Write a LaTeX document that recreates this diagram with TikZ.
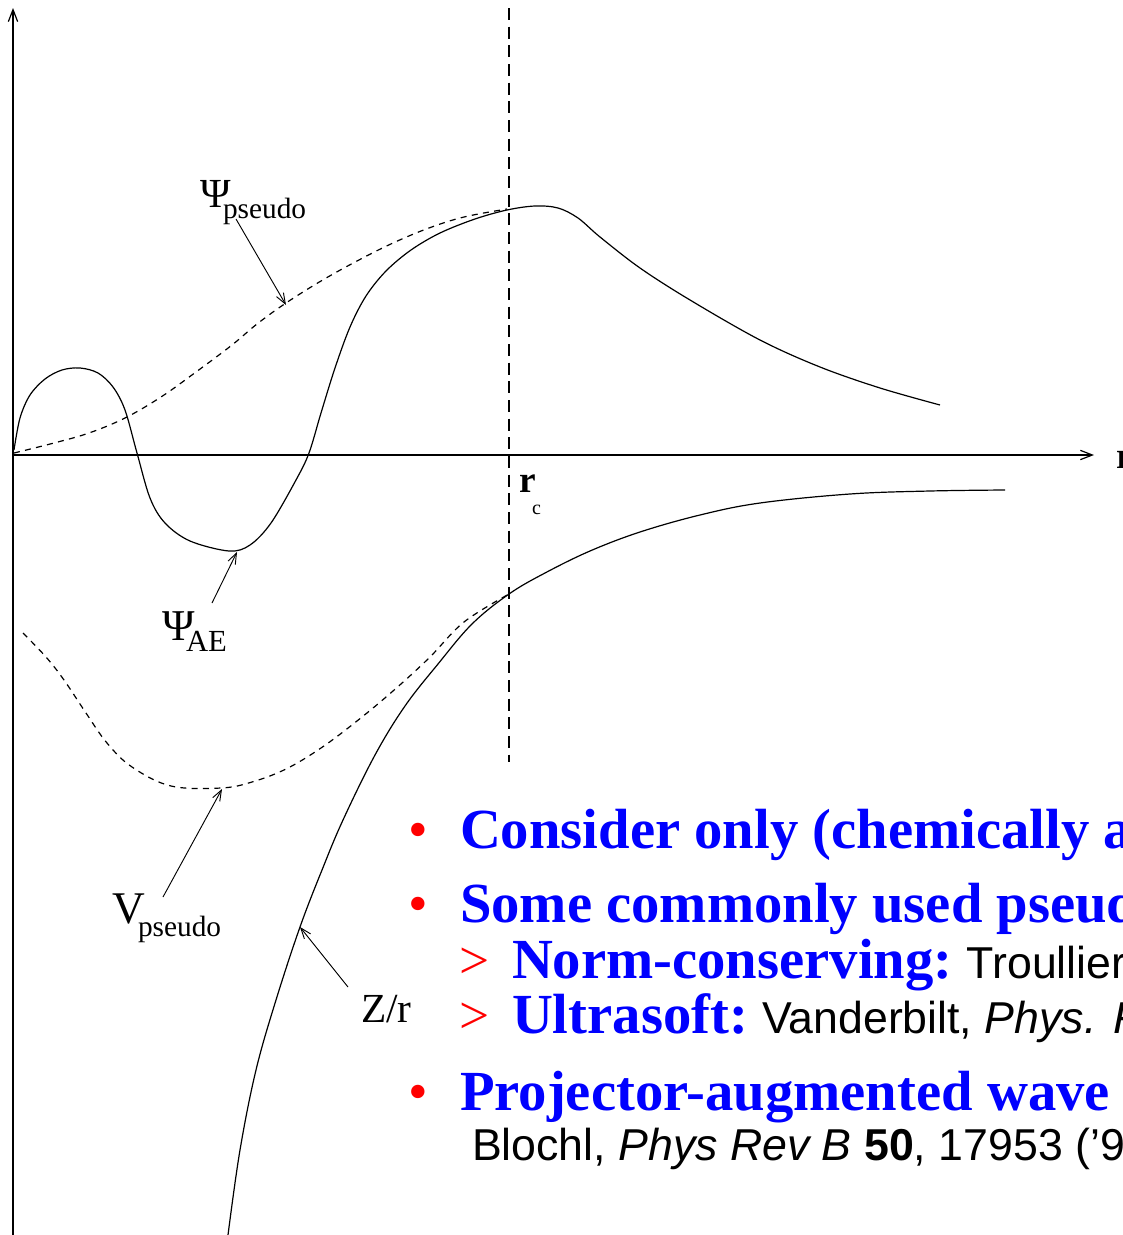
\documentclass[tikz,border=0pt]{standalone}
\usepackage{fontspec}
\setmainfont{Liberation Serif}
\newfontfamily\arial{Liberation Sans}
\usetikzlibrary{arrows.meta}
\definecolor{tblue}{RGB}{0,0,255}
\definecolor{tred}{RGB}{255,0,0}
\tikzset{
  solidcurve/.style={line width=0.9pt, line join=round},
  dashcurve/.style={line width=0.9pt, dash pattern=on 4.5pt off 4pt},
  axisline/.style={line width=0.9pt, -{Straight Barb[length=9pt,width=7pt]}},
  ptr/.style={line width=0.7pt, -{Straight Barb[length=8pt,width=6pt]}},
  lbl/.style={anchor=base west, inner sep=0pt, outer sep=0pt},
  head/.style={lbl, text=tblue, font=\fontsize{42.5}{48}\selectfont\bfseries},
  bul/.style={lbl, text=tred, font=\fontsize{42}{48}\selectfont},
  gt/.style={lbl, text=tred, font=\fontsize{40}{48}\selectfont},
  cite/.style={lbl, text=black, font=\arial\fontsize{33.5}{38}\selectfont},
}
\newcommand{\citefont}{\arial\mdseries\fontsize{33.5}{38}\selectfont}
\begin{document}
\begin{tikzpicture}[x=0.75pt,y=-0.75pt]
\useasboundingbox (0,0) rectangle (1122,1235);
\clip (0,0) rectangle (1122,1235);
\fill[white] (0,0) rectangle (1122,1235);

% axes
\coordinate (yb) at (13,1240);
\coordinate (yt) at (13,8);
\coordinate (xl) at (13,455);
\coordinate (xr) at (1094,455);
\draw[axisline] (yb) -- (yt);
\draw[axisline] (xl) -- (xr);
\node[lbl, font=\fontsize{28}{30}\selectfont\bfseries] (rax) at (1116,468) {r};

% r_c dashed line
\coordinate (rct) at (509,8);
\coordinate (rcb) at (509,762);
\draw[line width=0.9pt, dash pattern=on 9pt off 5pt] (rct) -- (rcb);
\node[lbl, font=\fontsize{28}{30}\selectfont\bfseries] (rc) at (519,492) {r};
\node[lbl, font=\fontsize{15}{17}\selectfont] (rcs) at (532,514) {c};

% Psi_AE (solid)
\draw[solidcurve] plot[smooth, tension=0.55] coordinates {
 (14,450) (20,418) (30,395) (45,379) (62,370) (80,368) (98,373) (113,387) (125,410)
 (137,453) (150,498) (165,523) (190,541) (229,551) (250,545) (271,523)
 (296,480) (309,453) (321,413) (335,368) (350,327) (366,296) (386,271)
 (411,250) (440,233) (475,219) (507,210) (535,206) (558,208) (578,218)
 (600,237) (640,268) (690,300) (760,340) (820,367) (880,388) (940,405)};

% Psi_pseudo (dashed)
\draw[dashcurve] plot[smooth, tension=0.6] coordinates {
 (14,453) (54,443) (89,433) (125,418) (161,397) (196,372) (232,345)
 (257,324) (286,303) (321,281) (357,261) (393,243) (429,228) (464,217) (507,209)};

% Z/r (solid)
\draw[solidcurve] plot[smooth, tension=0.6] coordinates {
 (228,1235) (240,1150) (256,1070) (276,1000) (300,927) (322,870) (343,820)
 (375,755) (405,706) (438,664) (472,624) (509,594) (545,573) (590,551)
 (640,532) (700,515) (760,503) (850,494) (930,491) (1005,490)};

% V_pseudo (dashed)
\draw[dashcurve] plot[smooth, tension=0.6] coordinates {
 (23,633) (46,657) (64,680) (86,713) (107,743) (132,767) (171,786)
 (221,788) (252,782) (286,769) (321,748) (357,721) (393,691) (429,658)
 (464,622) (509,594)};

% labels
\node[lbl, font=\fontsize{31}{33}\selectfont] (psp) at (200,207) {Ψ};
\node[lbl, font=\fontsize{22}{24}\selectfont] (psps) at (223,218) {pseudo};
\node[lbl, font=\fontsize{33}{35}\selectfont] (pae) at (162,640) {Ψ};
\node[lbl, font=\fontsize{23}{25}\selectfont] (paes) at (186,651) {AE};
\node[lbl, font=\fontsize{34}{36}\selectfont] (vps) at (112,923) {V};
\node[lbl, font=\fontsize{22}{24}\selectfont] (vpss) at (138,936) {pseudo};
\node[lbl, font=\fontsize{31}{33}\selectfont] (zr) at (361,1022) {Z/r};

% pointer arrows
\coordinate (a1s) at (236,219);
\coordinate (a1e) at (286,305);
\draw[ptr] (a1s) -- (a1e);
\coordinate (a2s) at (212,603);
\coordinate (a2e) at (237,552);
\draw[ptr] (a2s) -- (a2e);
\coordinate (a3s) at (163,897);
\coordinate (a3e) at (222,789);
\draw[ptr] (a3s) -- (a3e);
\coordinate (a4s) at (348,987);
\coordinate (a4e) at (300,927);
\draw[ptr] (a4s) -- (a4e);

% bullet text
\node[bul] (b1) at (408,848) {•};
\node[head] (t1) at (460,848) {Consider only (chemically a};
\node[bul] (b2) at (408,922) {•};
\node[head] (t2) at (460,922) {Some commonly used pseudo};
\node[gt] (g1) at (459,978) {>};
\node[head] (t3) at (512,978) {Norm-conserving:\ \textcolor{black}{\citefont Troullier}};
\node[gt] (g2) at (459,1033) {>};
\node[head] (t4) at (512,1033) {Ultrasoft:\ \textcolor{black}{\citefont Vanderbilt, \textit{Phys. R}}};
\node[bul] (b3) at (408,1110) {•};
\node[head] (t5) at (460,1110) {Projector-augmented wave};
\node[cite] (t6) at (472,1160) {Blochl, \textit{Phys Rev B} \textbf{50}, 17953 (’9};
\end{tikzpicture}
\end{document}
